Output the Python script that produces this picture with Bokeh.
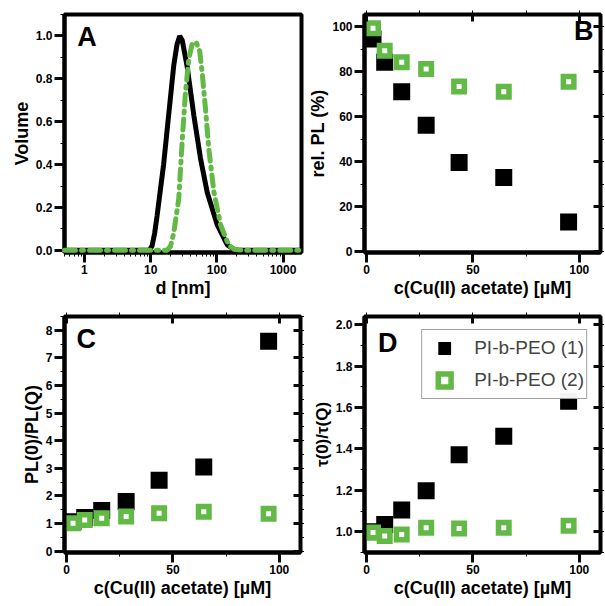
from bokeh.plotting import figure
from bokeh.layouts import row, column
from bokeh.models import (ColumnDataSource, Range1d, LinearAxis, SingleIntervalTicker,
                          FixedTicker, CustomJSTickFormatter, Label, Legend, LegendItem)
from bokeh.embed import file_html
from bokeh.resources import INLINE

GREEN = "#63b946"
TICK = "#0a0a0a"
FONT = "Liberation Sans"

# ---------------- data ----------------
# Panel A: DLS volume distributions
d_black = [0.5, 9.5, 10.5, 11.5, 12.5, 14.0, 15.7, 18.7, 22.3, 25.0, 27.5, 30.0, 35.5, 44.9, 56.6, 71.6, 101.0, 144.0, 182.0, 210.0, 1900]
vol_black = [0.0, 0.0, 0.02, 0.08, 0.16, 0.28, 0.40, 0.63, 0.86, 0.96, 1.0, 0.98, 0.86, 0.63, 0.43, 0.27, 0.12, 0.025, 0.005, 0.0, 0.0]
d_green = [0.5, 1.0, 2.0, 5.0, 10.0, 17.7, 20.0, 22.3, 26.6, 29.9, 33.6, 37.7, 42.4, 48.8, 55.0, 60.0, 67.4, 75.6, 90.2, 114.0, 151.0, 182.0, 250.0, 500.0, 1000.0, 1900.0]
vol_green = [0.0, 0.0, 0.0, 0.0, 0.0, 0.0, 0.02, 0.08, 0.24, 0.505, 0.738, 0.893, 0.963, 0.97, 0.93, 0.83, 0.66, 0.474, 0.273, 0.118, 0.025, 0.005, 0.0, 0.0, 0.0, 0.0]

# Panels B-D: quenching with Cu(II) acetate
conc = [3, 8.5, 16.5, 28, 43.5, 64.5, 95]
relpl_1 = [94.6, 84.2, 71.1, 56.2, 39.6, 32.9, 13.1]
relpl_2 = [99.4, 89.4, 84.2, 81.2, 73.4, 71.1, 75.6]
plratio_1 = [1.06, 1.22, 1.47, 1.8, 2.57, 3.05, 7.6]
plratio_2 = [1.01, 1.13, 1.19, 1.25, 1.37, 1.43, 1.35]
tauratio_1 = [1.0, 1.035, 1.105, 1.198, 1.372, 1.461, 1.631]
tauratio_2 = [0.997, 0.98, 0.987, 1.019, 1.016, 1.019, 1.029]

SERIES_LABELS = ["PI-b-PEO (1)", "PI-b-PEO (2)"]
log_major = [1, 10, 100, 1000]
log_minor = [0.5, 0.6, 0.7, 0.8, 0.9] + [m * 10 ** e for e in range(0, 4) for m in range(2, 10)]


def base_fig(width, height, xr, yr, borders, x_axis_type="linear"):
    p = figure(width=width, height=height, x_range=xr, y_range=yr,
               x_axis_type=x_axis_type, output_backend="svg", toolbar_location=None,
               min_border_left=borders[0], min_border_right=borders[1],
               min_border_top=borders[2], min_border_bottom=borders[3])
    p.xgrid.visible = False
    p.ygrid.visible = False
    p.outline_line_color = "black"
    p.outline_line_width = 4
    return p


def style_axis(ax, label=None, label_size="18px"):
    ax.axis_line_width = 4
    ax.axis_line_color = "black"
    ax.major_tick_line_color = TICK
    ax.major_tick_line_width = 3
    ax.major_tick_out = 10
    ax.major_tick_in = 0
    ax.major_label_text_font = FONT
    ax.major_label_text_font_style = "bold"
    ax.major_label_text_font_size = "12px"
    ax.major_label_text_color = "black"
    ax.major_label_standoff = 2
    if label is not None:
        ax.axis_label = label
        ax.axis_label_text_font = FONT
        ax.axis_label_text_font_style = "bold"
        ax.axis_label_text_font_size = label_size
        ax.axis_label_text_color = "black"
        ax.axis_label_standoff = 1


def mirror_axis(ticker):
    return LinearAxis(ticker=ticker, axis_line_color=None, major_tick_in=7, major_tick_out=0,
                      major_tick_line_width=3, major_tick_line_color=TICK,
                      formatter=CustomJSTickFormatter(code="return '';"),
                      major_label_text_font_size="1px", major_label_standoff=0)


def mirror(p, xticker, yticker):
    p.add_layout(mirror_axis(xticker), "above")
    p.add_layout(mirror_axis(yticker), "right")


def letter(p, x, y, t):
    p.add_layout(Label(x=x, y=y, text=t, text_font=FONT, text_font_style="bold",
                       text_font_size="27px", text_color="black"))


def scatter_pair(p, y1, y2):
    src = ColumnDataSource(dict(x=conc, y1=y1, y2=y2))
    r1 = p.scatter("x", "y1", source=src, marker="square", size=17, fill_color="black",
                   line_color="black", line_width=0)
    r2 = p.scatter("x", "y2", source=src, marker="square", size=10.5, fill_color="white",
                   line_color=GREEN, line_width=5.5, line_join="miter")
    return r1, r2


# ---------------- Panel A ----------------
pA = base_fig(304, 300, Range1d(0.5, 1900), Range1d(-0.01, 1.1), (64, 3, 14, 48), x_axis_type="log")
srcA1 = ColumnDataSource(dict(d=d_black, v=vol_black))
srcA2 = ColumnDataSource(dict(d=d_green, v=vol_green))
pA.line("d", "v", source=srcA1, line_color="black", line_width=5)
ga = pA.line("d", "v", source=srcA2, line_color=GREEN, line_width=5,
             line_dash="11 6 2 6", line_cap="round")
ga.level = "overlay"
pA.xaxis.ticker = FixedTicker(ticks=log_major, minor_ticks=log_minor)
pA.xaxis.formatter = CustomJSTickFormatter(code="return String(Math.round(tick));")
pA.yaxis.ticker = SingleIntervalTicker(interval=0.2, num_minor_ticks=2)
pA.yaxis.formatter = CustomJSTickFormatter(code="return tick.toFixed(1);")
style_axis(pA.xaxis[0], "d [nm]")
style_axis(pA.yaxis[0], "Volume")
letter(pA, 0.78, 0.925, "A")

# ---------------- Panel B ----------------
pB = base_fig(300, 300, Range1d(-1, 110), Range1d(-0.5, 105.5), (60, 4, 14, 48))
scatter_pair(pB, relpl_1, relpl_2)
pB.xaxis.ticker = SingleIntervalTicker(interval=50, num_minor_ticks=2)
pB.yaxis.ticker = SingleIntervalTicker(interval=20, num_minor_ticks=2)
style_axis(pB.xaxis[0], "c(Cu(II) acetate) [µM]")
style_axis(pB.yaxis[0], "rel. PL (%)")
mirror(pB, SingleIntervalTicker(interval=50, num_minor_ticks=2), SingleIntervalTicker(interval=20, num_minor_ticks=2))
letter(pB, 97.5, 91.5, "B")

# ---------------- Panel C ----------------
pC = base_fig(304, 305, Range1d(-1, 110), Range1d(-0.05, 8.5), (64, 3, 16, 53))
scatter_pair(pC, plratio_1, plratio_2)
pC.xaxis.ticker = SingleIntervalTicker(interval=50, num_minor_ticks=2)
pC.yaxis.ticker = SingleIntervalTicker(interval=1, num_minor_ticks=2)
style_axis(pC.xaxis[0], "c(Cu(II) acetate) [µM]")
style_axis(pC.yaxis[0], "PL(0)/PL(Q)")
mirror(pC, SingleIntervalTicker(interval=50, num_minor_ticks=2), SingleIntervalTicker(interval=1, num_minor_ticks=2))
letter(pC, 4.6, 7.15, "C")

# ---------------- Panel D ----------------
pD = base_fig(300, 305, Range1d(-1, 110), Range1d(0.9, 2.04), (60, 4, 16, 53))
r1, r2 = scatter_pair(pD, tauratio_1, tauratio_2)
pD.xaxis.ticker = SingleIntervalTicker(interval=50, num_minor_ticks=2)
pD.yaxis.ticker = SingleIntervalTicker(interval=0.2, num_minor_ticks=2)
pD.yaxis.formatter = CustomJSTickFormatter(code="return tick.toFixed(1);")
style_axis(pD.xaxis[0], "c(Cu(II) acetate) [µM]")
style_axis(pD.yaxis[0], "τ(0)/τ(Q)", label_size="17px")
mirror(pD, SingleIntervalTicker(interval=50, num_minor_ticks=2), SingleIntervalTicker(interval=0.2, num_minor_ticks=2))
letter(pD, 5.3, 1.84, "D")

legend = Legend(items=[LegendItem(label=SERIES_LABELS[0], renderers=[r1]),
                       LegendItem(label=SERIES_LABELS[1], renderers=[r2])],
                location="top_right", margin=13, padding=2, spacing=-14,
                glyph_width=40, glyph_height=32, label_standoff=10,
                label_text_font=FONT, label_text_font_size="19px",
                border_line_color="#444444", border_line_width=1)
pD.add_layout(legend)

layout = column(row(pA, pB), row(pC, pD))
open("out.html", "w").write(file_html(layout, INLINE))
